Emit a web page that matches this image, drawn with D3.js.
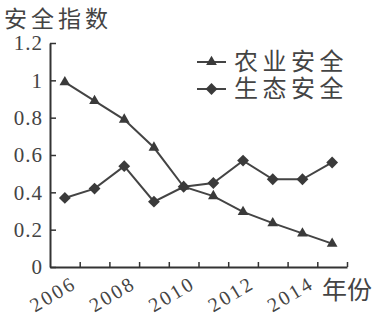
<!DOCTYPE html>
<html>
<head>
<meta charset="utf-8">
<script src="https://cdn.jsdelivr.net/npm/d3@7"></script>
<style>
  html, body { margin: 0; padding: 0; background: #ffffff; }
  svg { display: block; }
</style>
</head>
<body>
<svg id="chart" width="380" height="319"></svg>
<script>
// ---- data ----
const years = ["2006","2007","2008","2009","2010","2011","2012","2013","2014","2015"];
const agriculture = [0.99, 0.89, 0.79, 0.64, 0.43, 0.38, 0.295, 0.235, 0.18, 0.125];
const ecology = [0.37, 0.42, 0.54, 0.35, 0.43, 0.45, 0.57, 0.47, 0.47, 0.56];
const seriesNames = ["农业安全", "生态安全"];
const yTickValues = [0, 0.2, 0.4, 0.6, 0.8, 1, 1.2];
const yTickLabels = ["0", "0.2", "0.4", "0.6", "0.8", "1", "1.2"];
const xLabelYears = ["2006", "2008", "2010", "2012", "2014"];
const yTitle = "安全指数";
const xTitle = "年份";

// ---- layout ----
const svg = d3.select("#chart");
const mLeft = 50, mRight = 347, mTop = 43, mBottom = 267;
const ink = "#333333";
const lineColor = "#444444";
const serif = "'Liberation Serif', 'DejaVu Serif', serif";
const cjk = "'Noto Sans CJK SC', sans-serif";

const x = d3.scaleBand().domain(years).range([mLeft, mRight]).padding(0);
const xEdge = d3.scaleLinear().domain([0, years.length]).range([mLeft, mRight]);
const y = d3.scaleLinear().domain([0, 1.2]).range([mBottom, mTop]);
const cx = d => x(d) + x.bandwidth() / 2;

// y axis
const yAxis = d3.axisLeft(y)
  .tickValues(yTickValues)
  .tickFormat((d, i) => yTickLabels[i])
  .tickSizeInner(-6)
  .tickSizeOuter(0)
  .tickPadding(7);
const gy = svg.append("g").attr("transform", `translate(${mLeft},0)`).call(yAxis);
gy.select(".domain").attr("stroke", ink).attr("stroke-width", 2);
gy.selectAll(".tick line").attr("stroke", ink).attr("stroke-width", 1.5);
gy.selectAll(".tick text")
  .attr("fill", "#444")
  .style("font-family", serif)
  .style("font-size", "21px")
  .style("letter-spacing", "1px");

// x axis (ticks at category edges)
const xAxis = d3.axisBottom(xEdge)
  .tickValues(d3.range(1, years.length + 1))
  .tickFormat("")
  .tickSizeInner(-5)
  .tickSizeOuter(0);
const gx = svg.append("g").attr("transform", `translate(0,${mBottom})`).call(xAxis);
gx.select(".domain").attr("stroke", ink).attr("stroke-width", 2);
gx.selectAll(".tick line").attr("stroke", ink).attr("stroke-width", 1.5);

// x labels (rotated)
svg.append("g").selectAll("text")
  .data(xLabelYears)
  .join("text")
  .attr("transform", d => `translate(${cx(d) + 13},${mBottom + 20}) rotate(-31)`)
  .attr("text-anchor", "end")
  .attr("fill", "#444")
  .style("font-family", serif)
  .style("font-size", "20px")
  .style("letter-spacing", "2.5px")
  .text(d => d);

// axis titles
svg.append("text")
  .attr("x", 4).attr("y", 27)
  .attr("fill", "#444")
  .style("font-family", cjk)
  .style("font-size", "23px")
  .style("letter-spacing", "4px")
  .text(yTitle);

svg.append("text")
  .attr("x", 322).attr("y", 299)
  .attr("fill", "#444")
  .style("font-family", cjk)
  .style("font-size", "25px")
  .text(xTitle);

// lines
const line = d3.line().x((d, i) => cx(years[i])).y(d => y(d));
const tri = d3.symbol().type(d3.symbolTriangle).size(50);
const dia = d3.symbol().type(d3.symbolSquare).size(70);

svg.append("path").datum(agriculture)
  .attr("d", line).attr("fill", "none").attr("stroke", lineColor).attr("stroke-width", 2);
svg.append("path").datum(ecology)
  .attr("d", line).attr("fill", "none").attr("stroke", lineColor).attr("stroke-width", 2);

svg.append("g").selectAll("path")
  .data(ecology)
  .join("path")
  .attr("d", dia)
  .attr("transform", (d, i) => `translate(${cx(years[i])},${y(d)}) rotate(45)`)
  .attr("fill", "#3a3a3a");

svg.append("g").selectAll("path")
  .data(agriculture)
  .join("path")
  .attr("d", tri)
  .attr("transform", (d, i) => `translate(${cx(years[i])},${y(d)})`)
  .attr("fill", "#3a3a3a");

// legend
const legend = svg.append("g");
const legendRows = [
  { name: seriesNames[0], sym: tri, rot: 0, y: 62 },
  { name: seriesNames[1], sym: dia, rot: 45, y: 89 }
];
legendRows.forEach(r => {
  legend.append("line")
    .attr("x1", 197).attr("x2", 226).attr("y1", r.y).attr("y2", r.y)
    .attr("stroke", lineColor).attr("stroke-width", 2);
  legend.append("path")
    .attr("d", r.sym)
    .attr("transform", `translate(211.5,${r.y}) rotate(${r.rot})`)
    .attr("fill", "#3a3a3a");
  legend.append("text")
    .attr("x", 234).attr("y", r.y + 8)
    .attr("fill", "#444")
    .style("font-family", cjk)
    .style("font-size", "24px")
    .style("letter-spacing", "4.5px")
    .text(r.name);
});
</script>
</body>
</html>
